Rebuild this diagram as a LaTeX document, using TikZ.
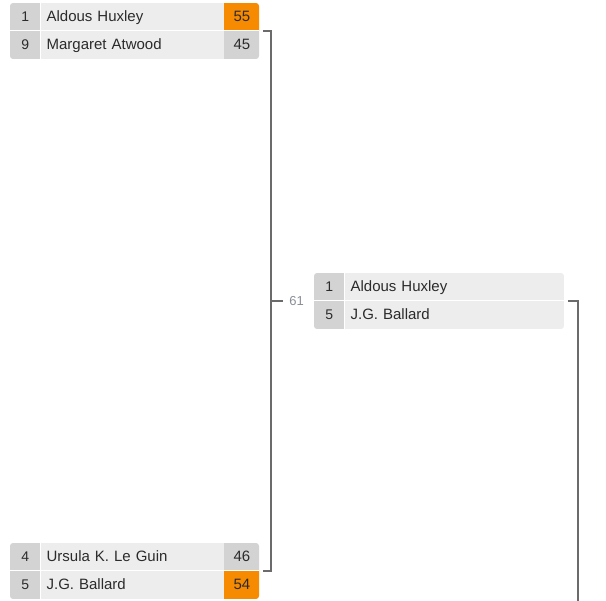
\documentclass[tikz,border=0pt]{standalone}
\usepackage{fontspec}
\setmainfont{Liberation Sans}
\usepackage{xcolor}
\usepackage{tikz}
\usetikzlibrary{positioning}

\definecolor{namebg}{HTML}{EDEDED}
\definecolor{seedbg}{HTML}{D3D3D3}
\definecolor{winbg}{HTML}{F68A00}
\definecolor{linegray}{HTML}{6B6B6B}
\definecolor{txt}{HTML}{2B2B2B}
\definecolor{lblgray}{HTML}{8A8F95}

\begin{document}
\begin{tikzpicture}[x=1pt,y=-1pt,
    cell/.style={minimum height=27.5pt, inner sep=0pt, text height=10.5pt, text depth=1.5pt, text=txt},
    seedcell/.style={cell, fill=seedbg, minimum width=30pt, font=\fontsize{14}{16}\selectfont},
    namecell/.style={cell, fill=namebg, inner xsep=6pt, align=left, font=\fontsize{15}{17}\selectfont},
    scorecell/.style={cell, fill=seedbg, minimum width=36pt, font=\fontsize{15}{17}\selectfont},
    wincell/.style={scorecell, fill=winbg},
    bracket/.style={draw=linegray, line width=2.5pt}]
          \useasboundingbox (0,0) rectangle (606,601);

          % round 1, top match
          \begin{scope}
            \clip[rounded corners=3pt] (10,3) rectangle ++(249,56);
            \node[seedcell, anchor=north west] (s1) at (10,3) {1};
            \node[namecell, right=0pt of s1, text width=171pt] (p1) {Aldous Huxley};
            \node[wincell, right=0pt of p1] (c1) {55};
            \node[seedcell, below=0pt of s1] (s2) {9};
            \node[namecell, right=0pt of s2, text width=171pt] (p2) {Margaret Atwood};
            \node[scorecell, right=0pt of p2] (c2) {45};
            \draw[white, line width=1pt] (s1.south west) -- (c1.south east);
          \end{scope}

          % round 1, bottom match
          \begin{scope}
            \clip[rounded corners=3pt] (10,543) rectangle ++(249,56);
            \node[seedcell, anchor=north west] (s3) at (10,543) {4};
            \node[namecell, right=0pt of s3, text width=171pt] (p3) {Ursula K. Le Guin};
            \node[scorecell, right=0pt of p3] (c3) {46};
            \node[seedcell, below=0pt of s3] (s4) {5};
            \node[namecell, right=0pt of s4, text width=171pt] (p4) {J.G. Ballard};
            \node[wincell, right=0pt of p4] (c4) {54};
            \draw[white, line width=1pt] (s3.south west) -- (c3.south east);
          \end{scope}

          % round 2
          \begin{scope}
            \clip[rounded corners=3pt] (314,273) rectangle ++(250,56);
            \node[seedcell, anchor=north west] (s5) at (314,273) {1};
            \node[namecell, right=0pt of s5, text width=208pt] (p5) {Aldous Huxley};
            \node[seedcell, below=0pt of s5] (s6) {5};
            \node[namecell, right=0pt of s6, text width=208pt] (p6) {J.G. Ballard};
            \draw[white, line width=1pt] (s5.south west) -- (p5.south east);
          \end{scope}

          % connectors
          \draw[bracket] ([xshift=3pt]c1.south east) -- ++(8,0) coordinate (j1)
            -- (j1 |- c3.south east) -- ([xshift=3pt]c3.south east);
          \coordinate (j2) at (j1 |- p5.south east);
          \draw[bracket] (j2) -- ++(12,0) coordinate (j3);
          \node[right=6pt of j3, inner sep=0pt, text=lblgray, font=\fontsize{13}{15}\selectfont] (m61) {61};

          \draw[bracket] ([xshift=3pt]p5.south east) -- ++(10,0) coordinate (j4)
            -- (j4 |- 0,601) coordinate (next);
\end{tikzpicture}
\end{document}
